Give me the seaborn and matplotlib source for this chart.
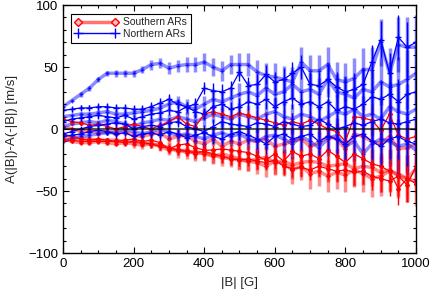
import numpy as np
import matplotlib
matplotlib.use("Agg")
import matplotlib.pyplot as plt
from matplotlib.lines import Line2D
from matplotlib.ticker import MultipleLocator
import seaborn as sns

# |B| bins in gauss
b_field = np.arange(0, 1001, 25)

# Northern ARs (blue); "light" ones drawn thick and translucent
north_1_light = [18, 23, 28, 33, 40, 45, 45, 45, 45, 48, 52, 53, 49, 51, 52, 52, 54, 50, 47, 52, 52,
                 52, 46, 43, 42, 40, 38, 54, 47, 47, 52, 40, 38, 41, 48, 48, 70, 45, 68, 66, 66]
north_2 = [15, 16, 17, 17, 18, 18, 17, 17, 16, 16, 18, 21, 24, 20, 18, 20, 33, 31, 30, 33, 46,
           35, 36, 44, 38, 40, 45, 50, 36, 35, 40, 34, 30, 32, 36, 54, 72, 45, 74, 66, 70]
north_3_light = [10, 11, 12, 12, 13, 14, 12, 12, 13, 14, 15, 17, 20, 22, 18, 16, 20, 24, 22, 25, 28,
                 30, 27, 33, 28, 30, 36, 30, 32, 28, 40, 30, 28, 25, 32, 30, 38, 34, 36, 40, 45]
north_4 = [6, 8, 9, 10, 11, 10, 9, 11, 8, 10, 12, 13, 15, 14, 18, 14, 12, 18, 20, 16, 18,
           22, 20, 24, 18, 22, 25, 20, 22, 18, 22, 15, 18, 16, 20, 26, 24, 28, 22, 28, 30]
north_5_light = [2, 4, 5, 6, 5, 7, 6, 4, 2, 5, 6, 8, 7, 10, 8, 6, 9, 12, 10, 8, 12,
                 10, 8, 12, 14, 10, 8, 12, 10, 6, 10, 14, 12, 16, 10, 12, 8, 18, 14, 12, 16]
north_6 = [-4, -2, 0, 2, 3, 4, 5, 4, 0, 2, 3, 2, 5, 6, 2, 0, -2, 2, 6, 4, 3,
           2, 5, 4, 2, 6, 4, 2, 3, 8, 4, 0, 2, 5, 3, 6, 8, 5, 4, 6, 8]
north_7_light = [-10, -8, -6, -5, -4, -3, -2, 0, -2, -4, -2, 0, -3, -5, -4, -6, -8, -5, -3, -6, -4,
                 -8, -10, -6, -5, -8, -12, -6, -10, -15, -8, -5, -14, -10, -20, -12, -8, -10, -14, -12, -17]
north_8 = [-6, -5, -4, -2, -1, -2, -4, -3, -6, -4, -3, -5, -2, -4, -7, -5, -3, -6, -8, -4, -2,
           -5, -8, -12, -6, -4, -8, -6, -4, -10, -6, -8, -12, -6, -4, -10, -14, -8, -6, -10, -12]

# Southern ARs (red)
south_1 = [8, 6, 5, 3, 4, 2, 0, 2, 4, 2, 0, 3, 6, 10, 4, 2, 12, 14, 12, 10, 13,
           11, 9, 7, 5, 3, 6, 4, 7, 4, 0, -2, -10, 10, 9, 7, -1, 12, -5, -8, -6]
south_2_light = [2, 0, -2, -1, -3, -2, -4, -2, -5, -6, -4, -3, -8, -6, -5, -10, -12, -8, -14, -10, -12,
                 -9, -10, -8, -14, -12, -10, -8, -14, -11, -6, -8, -16, -4, -6, -10, -12, -6, -16, -15, -12]
south_3 = [-4, -6, -8, -9, -8, -9, -10, -9, -8, -10, -9, -11, -16, -13, -12, -15, -17, -17, -16, -17, -18,
           -19, -22, -25, -20, -26, -18, -22, -20, -24, -17, -22, -27, -20, -24, -28, -30, -34, -48, -40, -44]
south_4_light = [-6, -7, -8, -8, -9, -9, -9, -10, -10, -11, -12, -13, -15, -18, -17, -20, -19, -21, -23, -24, -25,
                 -26, -27, -30, -26, -28, -33, -30, -36, -34, -38, -35, -37, -33, -36, -40, -38, -34, -36, -40, -32]
south_5 = [-9, -9, -10, -10, -10, -10, -10, -11, -10, -11, -12, -14, -15, -17, -18, -19, -18, -20, -22, -24, -25,
           -24, -26, -27, -25, -30, -32, -31, -33, -30, -32, -34, -33, -35, -34, -38, -40, -42, -38, -45, -30]
south_6_light = [-8, -10, -11, -11, -10, -11, -12, -11, -12, -13, -12, -14, -17, -16, -19, -18, -20, -22, -20, -22, -24,
                 -26, -24, -23, -27, -26, -29, -27, -26, -27, -30, -29, -28, -32, -30, -31, -35, -33, -38, -40, -42]

# error bar half-lengths
err_north = [2, 2, 2, 2, 3, 3, 3, 3, 3, 3, 4, 4, 4, 4, 4, 5, 5, 6, 6, 6, 7,
             7, 8, 8, 8, 9, 9, 10, 10, 11, 11, 12, 12, 13, 13, 14, 15, 16, 18, 20, 22]
err_north_light = [1, 1, 2, 2, 2, 2, 3, 3, 3, 3, 4, 4, 5, 5, 6, 6, 7, 7, 8, 8, 9,
                   9, 10, 10, 11, 11, 12, 12, 13, 13, 14, 14, 15, 16, 17, 18, 19, 20, 22, 24, 26]
err_south = [2, 2, 2, 2, 2, 2, 3, 3, 3, 3, 3, 3, 3, 4, 4, 4, 4, 4, 5, 5, 5,
             6, 6, 6, 7, 7, 7, 8, 8, 8, 9, 9, 9, 10, 10, 11, 11, 12, 13, 14, 15]
err_south_light = [1, 1, 1, 2, 2, 2, 2, 3, 3, 3, 3, 4, 4, 5, 5, 6, 6, 6, 7, 7, 8,
                   8, 9, 9, 10, 10, 11, 11, 12, 12, 13, 13, 14, 14, 15, 15, 16, 17, 18, 19, 20]

sns.set_theme(style="ticks")
plt.rcParams["font.family"] = ["Liberation Sans", "DejaVu Sans"]

fig = plt.figure(figsize=(4.36, 2.98), dpi=100)
ax = fig.add_axes([0.1445, 0.151, 0.8096, 0.832])

series = [
    (south_6_light, err_south_light, "red", True),
    (south_4_light, err_south_light, "red", True),
    (south_2_light, err_south_light, "red", True),
    (north_7_light, err_north_light, "blue", True),
    (north_5_light, err_north_light, "blue", True),
    (north_3_light, err_north_light, "blue", True),
    (north_1_light, err_north_light, "blue", True),
    (south_5, err_south, "red", False),
    (south_3, err_south, "red", False),
    (south_1, err_south, "red", False),
    (north_8, err_north, "blue", False),
    (north_6, err_north, "blue", False),
    (north_4, err_north, "blue", False),
    (north_2, err_north, "blue", False),
]

for vals, err, col, light in series:
    mk = "+" if col == "blue" else "D"
    if light:
        ax.errorbar(b_field, vals, yerr=err, fmt="none", ecolor=col, elinewidth=2.5, alpha=0.45)
        sns.lineplot(x=b_field, y=vals, color=col, lw=2.5, alpha=0.45, ax=ax)
        ax.plot(b_field, vals, ls="none", marker=mk, ms=3.5 if col == "blue" else 2,
                color=col, mew=0.8, alpha=0.7)
    else:
        ax.errorbar(b_field, vals, yerr=err, fmt="none", ecolor=col, elinewidth=1)
        sns.lineplot(x=b_field, y=vals, color=col, lw=0.9, marker=mk,
                     ms=4.5 if col == "blue" else 2, markeredgecolor=col, mew=1, ax=ax)

ax.axhline(0, color="black", lw=1.5, alpha=0.65)

ax.set_xlim(0, 1000)
ax.set_ylim(-100, 100)
ax.xaxis.set_major_locator(MultipleLocator(200))
ax.xaxis.set_minor_locator(MultipleLocator(50))
ax.yaxis.set_major_locator(MultipleLocator(50))
ax.yaxis.set_minor_locator(MultipleLocator(10))
ax.tick_params(which="both", direction="in", top=True, right=True, labelsize=9.5, colors="black")
ax.tick_params(which="major", length=4.5, width=0.8)
ax.tick_params(which="minor", length=2.5, width=0.8)
for sp in ax.spines.values():
    sp.set_color("black")
    sp.set_linewidth(1)

ax.set_xlabel("|B| [G]", fontsize=9.5)
ax.set_ylabel("A(|B|)-A(-|B|) [m/s]", fontsize=9.5)
ax.xaxis.set_label_coords(0.5, -0.095)
ax.yaxis.set_label_coords(-0.128, 0.5)

handles = [
    Line2D([], [], color=(1, 0.45, 0.45), lw=2.5, marker="D", ms=4,
           mfc=(1, 0.75, 0.75), mec="red", mew=1),
    Line2D([], [], color="blue", lw=1, marker="+", ms=7, mew=1),
]
leg = ax.legend(handles, ["Southern ARs", "Northern ARs"], loc="upper left",
                bbox_to_anchor=(0.022, 0.965), borderaxespad=0, fontsize=7.5,
                handlelength=4.2, numpoints=2, fancybox=False, framealpha=1,
                edgecolor="black", labelspacing=0.15, borderpad=0.35,
                handletextpad=0.5)
leg.get_frame().set_linewidth(0.8)

fig.savefig("out.png", dpi=100)
